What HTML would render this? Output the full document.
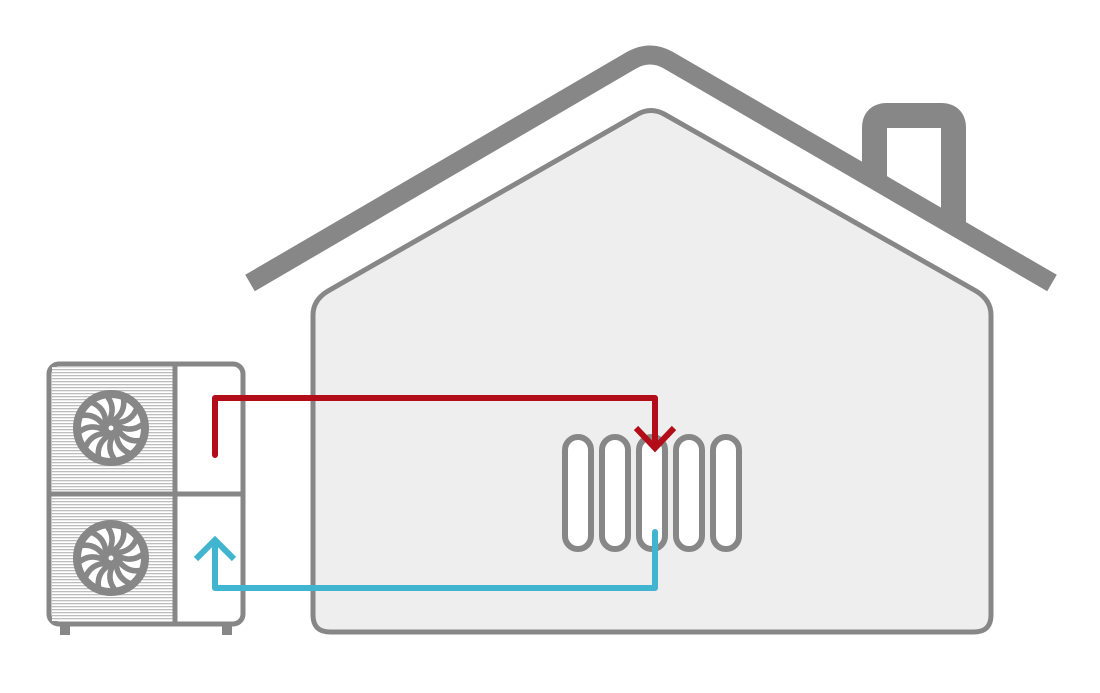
<!DOCTYPE html>
<html><head><style>html,body{margin:0;padding:0;background:#fff}</style></head>
<body>
<svg width="1100" height="688" viewBox="0 0 1100 688" xmlns="http://www.w3.org/2000/svg">
<defs>
<pattern id="h" width="4" height="3" patternUnits="userSpaceOnUse">
<rect width="4" height="3" fill="#fff"/><rect width="4" height="1.3" fill="#bdbdbd"/>
</pattern>
<g id="fan">
<circle r="34" fill="#fff" stroke="#878787" stroke-width="8"/>
<g fill="none" stroke="#878787" stroke-width="5.5" stroke-linecap="round">
<path id="bl" d="M0,-6 Q16,-15 12,-32"/>
<use href="#bl" transform="rotate(30)"/><use href="#bl" transform="rotate(60)"/><use href="#bl" transform="rotate(90)"/>
<use href="#bl" transform="rotate(120)"/><use href="#bl" transform="rotate(150)"/><use href="#bl" transform="rotate(180)"/>
<use href="#bl" transform="rotate(210)"/><use href="#bl" transform="rotate(240)"/><use href="#bl" transform="rotate(270)"/>
<use href="#bl" transform="rotate(300)"/><use href="#bl" transform="rotate(330)"/>
</g>
<circle r="7" fill="#878787"/><circle r="2.5" fill="#fff"/>
</g>
</defs>
<!-- chimney -->
<path d="M874.5,178 V128 Q874.5,115.5 887,115.5 H941 Q953.5,115.5 953.5,128 V225" fill="none" stroke="#878787" stroke-width="25"/>
<!-- roof -->
<path d="M250,283 L632,60 Q650,50 668,60 L1052,283" fill="none" stroke="#878787" stroke-width="19" stroke-linejoin="round"/>
<!-- house body -->
<path d="M313,615 V315 Q313,300 328,291 L638,114 Q651,107 664,114 L976,291 Q991,300 991,315 V615 Q991,632 974,632 H330 Q313,632 313,615 Z" fill="#eeeeee" stroke="#878787" stroke-width="5"/>
<!-- radiator -->
<g fill="#fff" stroke="#878787" stroke-width="6">
<rect x="565" y="437" width="26" height="112" rx="13"/>
<rect x="602" y="437" width="26" height="112" rx="13"/>
<rect x="639" y="437" width="26" height="112" rx="13"/>
<rect x="676" y="437" width="26" height="112" rx="13"/>
<rect x="713" y="437" width="26" height="112" rx="13"/>
</g>
<!-- heat pump -->
<rect x="60" y="620" width="10" height="15" fill="#878787"/>
<rect x="222" y="620" width="10" height="15" fill="#878787"/>
<rect x="49" y="364" width="194" height="260" rx="10" fill="#fff" stroke="#878787" stroke-width="5"/>
<rect x="52" y="367" width="123" height="125" fill="url(#h)"/>
<rect x="52" y="496" width="123" height="125" fill="url(#h)"/>
<line x1="175" y1="364" x2="175" y2="624" stroke="#878787" stroke-width="5"/>
<line x1="49" y1="494" x2="243" y2="494" stroke="#878787" stroke-width="5"/>
<use href="#fan" x="111" y="428"/>
<use href="#fan" x="111" y="558"/>
<!-- red flow -->
<path d="M215,455 V398 H655 V446" fill="none" stroke="#b20d19" stroke-width="6" stroke-linecap="round" stroke-linejoin="round"/>
<path d="M636,428 L655,448 L674,428" fill="none" stroke="#b20d19" stroke-width="6"/>
<!-- blue flow -->
<path d="M655,532 V588 H215 V542" fill="none" stroke="#41b4d0" stroke-width="6" stroke-linecap="round" stroke-linejoin="round"/>
<path d="M196,559 L215,540 L234,559" fill="none" stroke="#41b4d0" stroke-width="6"/>
</svg>
</body></html>
